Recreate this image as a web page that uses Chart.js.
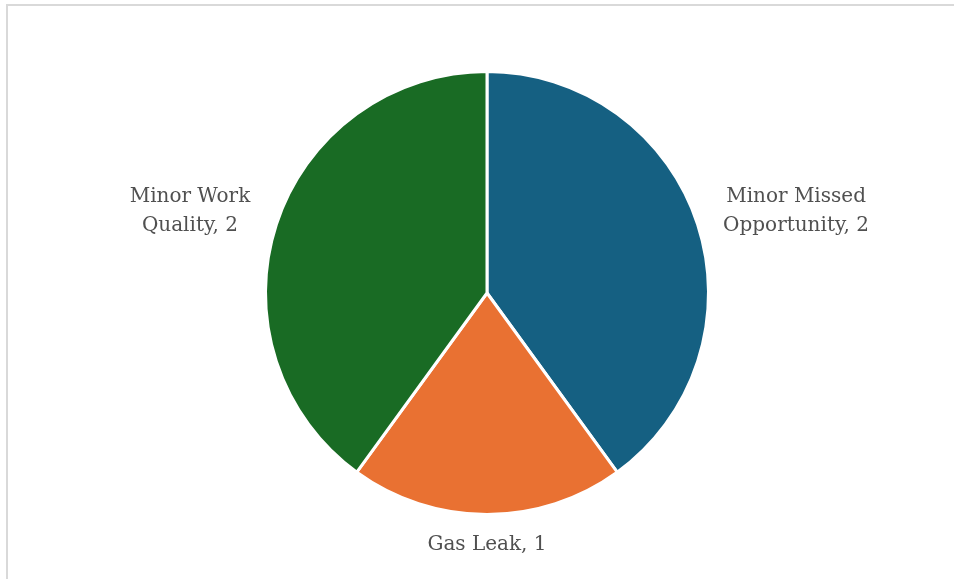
<!DOCTYPE html>
<html>
<head>
<meta charset="utf-8">
<title>Pie chart</title>
<script src="https://cdn.jsdelivr.net/npm/chart.js@4.4.0/dist/chart.umd.min.js"></script>
<style>
	html, body { margin: 0; padding: 0; background: #fff; overflow: hidden; }
	#wrap { position: relative; width: 954px; height: 579px; }
	#frame {
		position: absolute; left: 6px; top: 4px; width: 960px; height: 590px;
		border-top: 2px solid #d9d9d9; border-left: 2px solid #d9d9d9;
		pointer-events: none;
	}
</style>
</head>
<body>
<div id="wrap">
	<canvas id="myChart" width="954" height="579"></canvas>
	<div id="frame"></div>
</div>
<script>
	// dane wykresu
	const categories = ['Minor Missed Opportunity', 'Gas Leak', 'Minor Work Quality'];
	const values = [2, 1, 2];
	const sliceColors = ['#156082', '#E97132', '#196B24'];

	const labelFont = '20px "DejaVu Serif"';
	const lineHeight = 29;

	// zawijanie tekstu etykiet jak w Excelu
	function wrapText(ctx, text, maxWidth) {
		const words = text.split(' ');
		const lines = [];
		let line = '';
		words.forEach(function(w) {
			const test = line ? line + ' ' + w : w;
			if (line && ctx.measureText(test).width > maxWidth) {
				lines.push(line);
				line = w;
			} else {
				line = test;
			}
		});
		if (line) lines.push(line);
		return lines;
	}

	// etykiety danych na zewnątrz wycinków
	const outsideLabels = {
		id: 'outsideLabels',
		afterDatasetsDraw(chart) {
			const ctx = chart.ctx;
			const meta = chart.getDatasetMeta(0);
			ctx.save();
			ctx.font = labelFont;
			ctx.fillStyle = '#505050';
			ctx.textAlign = 'center';
			ctx.textBaseline = 'middle';
			meta.data.forEach(function(arc, i) {
				const p = arc.getProps(['x', 'y', 'startAngle', 'endAngle', 'outerRadius'], true);
				const mid = (p.startAngle + p.endAngle) / 2;
				const dx = Math.cos(mid), dy = Math.sin(mid);
				const lines = wrapText(ctx, chart.data.labels[i] + ', ' + chart.data.datasets[0].data[i], 160);
				let halfW = 0;
				lines.forEach(function(l) { halfW = Math.max(halfW, ctx.measureText(l).width / 2); });
				const halfH = lines.length * lineHeight / 2;
				const r = p.outerRadius + 1.5;
				const cx = p.x + dx * (r + 29 + halfW);
				const cy = p.y + dy * (r + 14 + halfH);
				lines.forEach(function(l, k) {
					ctx.fillText(l, cx, cy - halfH + lineHeight * (k + 0.5));
				});
			});
			ctx.restore();
		}
	};

	const chart = new Chart(document.getElementById('myChart').getContext('2d'), {
		type: 'pie',
		data: {
			labels: categories,
			datasets: [{
				data: values,
				backgroundColor: sliceColors,
				borderColor: '#ffffff',
				borderWidth: 3
			}]
		},
		options: {
			responsive: false,
			animation: false,
			layout: {
				padding: { left: 20, right: 0, top: 70, bottom: 63 }
			},
			plugins: {
				legend: { display: false },
				tooltip: { enabled: false }
			}
		},
		plugins: [outsideLabels]
	});
</script>
</body>
</html>
